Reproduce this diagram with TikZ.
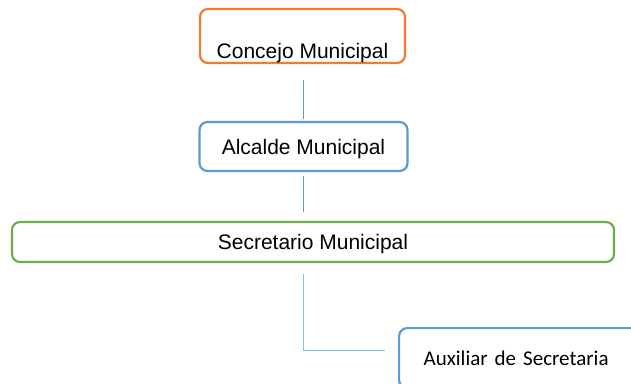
\documentclass[tikz,border=0pt]{standalone}
\usepackage{fontspec}
\setmainfont{Liberation Sans}
\newfontfamily\auxfont{Carlito}
\definecolor{orangebox}{HTML}{ED7D31}
\definecolor{bluebox}{HTML}{5B9BD5}
\definecolor{greenbox}{HTML}{70AD47}
\definecolor{lightline}{HTML}{8DBBE6}

\begin{document}
\begin{tikzpicture}[x=1pt,y=-1pt,
  box/.style={draw=#1, line width=2.2pt, rounded corners=8pt, inner sep=0pt,
    font=\fontsize{21}{25}\selectfont, text height=15pt, text depth=0pt},
  linkline/.style={bluebox, line width=1.4pt}]

\useasboundingbox (0,0) rectangle (631,383);

\node[box=orangebox, minimum width=205pt, text height=49pt, text depth=5pt] (concejo) at (302.5,36) {Concejo Municipal};
\node[box=bluebox, minimum width=208pt, minimum height=49pt] (alcalde) at (303.5,146.5) {Alcalde Municipal};
\node[box=greenbox, minimum width=602pt, minimum height=40pt] (secretario) at (313,242) {Secretario Municipal};

\coordinate (elbow) at (303.5,350.5);

\draw[linkline] ([yshift=-16pt]concejo.south -| alcalde.north) -- ([yshift=2pt]alcalde.north);
\draw[linkline] ([yshift=-4pt]alcalde.south) -- ([yshift=9pt]alcalde.south |- secretario.north);

\begin{scope}
\clip (0,0) rectangle (631,383);
\node[box=bluebox, anchor=north west, minimum width=260pt, minimum height=60pt, inner xsep=24.5pt,
  text width=211pt, align=left, font=\fontsize{21}{25}\auxfont] (auxiliar) at (398,327) {Auxiliar de Secretaria};
\end{scope}
\draw[linkline, lightline] ([yshift=-11pt]secretario.south -| elbow) |- ([xshift=-13pt]auxiliar.west |- elbow);
\end{tikzpicture}
\end{document}
